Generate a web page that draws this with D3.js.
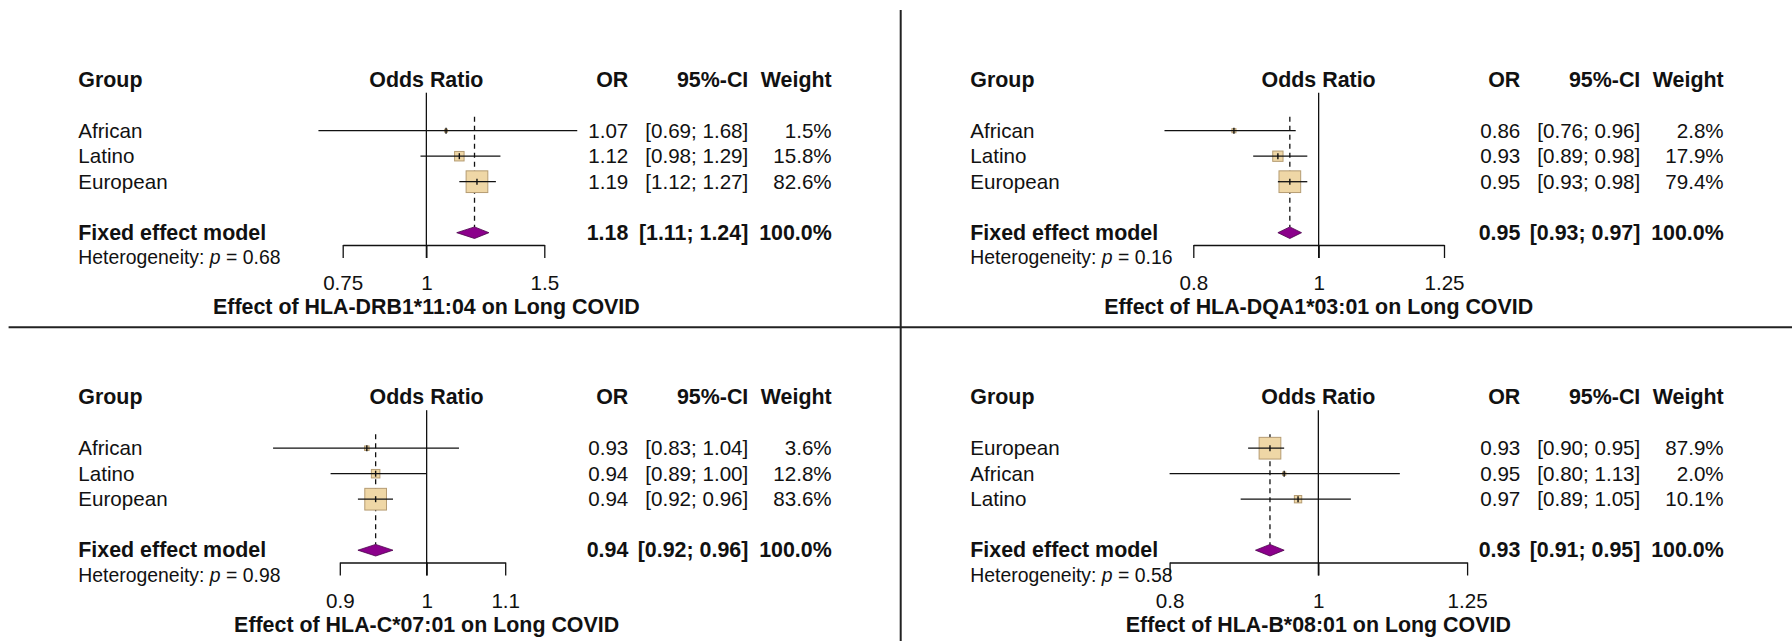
<!DOCTYPE html>
<html>
<head>
<meta charset="utf-8">
<script src="https://cdn.jsdelivr.net/npm/d3@7"></script>
<style>
  html, body { margin: 0; padding: 0; background: #fff; }
  svg { display: block; }
  text { font-family: "Liberation Sans", Arial, sans-serif; fill: #111; }
</style>
</head>
<body>
<svg id="chart" width="1792" height="641"></svg>
<script>
// ---------------- DATA ----------------
const panelTitles = [
  "Effect of HLA-DRB1*11:04 on Long COVID",
  "Effect of HLA-DQA1*03:01 on Long COVID",
  "Effect of HLA-C*07:01 on Long COVID",
  "Effect of HLA-B*08:01 on Long COVID"
];
const groupNames = [
  ["African", "Latino", "European"],
  ["African", "Latino", "European"],
  ["African", "Latino", "European"],
  ["European", "African", "Latino"]
];
const orValues = [
  [1.07, 1.12, 1.19],
  [0.86, 0.93, 0.95],
  [0.93, 0.94, 0.94],
  [0.93, 0.95, 0.97]
];
const ciLower = [
  [0.69, 0.98, 1.12],
  [0.76, 0.89, 0.93],
  [0.83, 0.89, 0.92],
  [0.90, 0.80, 0.89]
];
const ciUpper = [
  [1.68, 1.29, 1.27],
  [0.96, 0.98, 0.98],
  [1.04, 1.00, 0.96],
  [0.95, 1.13, 1.05]
];
const weights = [
  [1.5, 15.8, 82.6],
  [2.8, 17.9, 79.4],
  [3.6, 12.8, 83.6],
  [87.9, 2.0, 10.1]
];
const fixedOR = [1.18, 0.95, 0.94, 0.93];
const fixedLower = [1.11, 0.93, 0.92, 0.91];
const fixedUpper = [1.24, 0.97, 0.96, 0.95];
const hetP = ["0.68", "0.16", "0.98", "0.58"];
const tickValues = [
  [0.75, 1, 1.5],
  [0.8, 1, 1.25],
  [0.9, 1, 1.1],
  [0.8, 1, 1.25]
];
const headers = ["Group", "Odds Ratio", "OR", "95%-CI", "Weight"];
const fixedLabel = "Fixed effect model";

// ---------------- LAYOUT ----------------
const panelOffset = [[0, 0], [892, 0], [0, 317.5], [892, 317.5]];
const axisPixelRange = [[342.7, 544.3], [301.3, 552], [339.8, 505.2], [277.6, 575.1]];
const L = {
  groupX: 78.3, refX: 426.6, orRight: 628.3, ciRight: 748.3, wRight: 831.7,
  headerY: 86.7, row0: 130.7, rowStep: 25.5, fixedY: 232.7, textDy: 6.8,
  hetY: 264, axisY: 245, tickLen: 13, tickLabelY: 290, titleY: 314,
  refTop: 92.7, dashTop: 116.7, maxSquare: 21.7, diamondHalfH: 5.8,
  fontSize: 20.6, boldSize: 21.4, hetFont: 19.4
};

const svg = d3.select("#chart");
const fmt2 = d3.format(".2f");
const fmtW = d3.format(".1f");

panelTitles.forEach((title, i) => {
  const g = svg.append("g").attr("transform", `translate(${panelOffset[i][0]},${panelOffset[i][1]})`);
  const tv = tickValues[i];
  const x = d3.scaleLog().domain([tv[0], tv[tv.length - 1]]).range(axisPixelRange[i]);
  const rowY = k => L.row0 + k * L.rowStep;
  const wmax = d3.max(weights[i]);

  // headers
  const hdr = g.append("g").attr("font-weight", "bold").attr("font-size", L.boldSize);
  hdr.append("text").attr("x", L.groupX).attr("y", L.headerY).text(headers[0]);
  hdr.append("text").attr("x", x(1)).attr("y", L.headerY).attr("text-anchor", "middle").text(headers[1]);
  hdr.append("text").attr("x", L.orRight).attr("y", L.headerY).attr("text-anchor", "end").text(headers[2]);
  hdr.append("text").attr("x", L.ciRight).attr("y", L.headerY).attr("text-anchor", "end").text(headers[3]);
  hdr.append("text").attr("x", L.wRight).attr("y", L.headerY).attr("text-anchor", "end").text(headers[4]);

  // reference line at 1
  g.append("line").attr("x1", x(1)).attr("x2", x(1))
    .attr("y1", L.refTop).attr("y2", L.axisY + L.tickLen)
    .attr("stroke", "#111").attr("stroke-width", 1.3);

  // dashed fixed-effect line
  g.append("line").attr("x1", x(fixedOR[i])).attr("x2", x(fixedOR[i]))
    .attr("y1", L.dashTop).attr("y2", L.fixedY - L.diamondHalfH)
    .attr("stroke", "#111").attr("stroke-width", 1.3).attr("stroke-dasharray", "5,4");

  // study rows
  groupNames[i].forEach((name, k) => {
    const y = rowY(k);
    const s = L.maxSquare * Math.sqrt(weights[i][k] / wmax);
    const cx = x(orValues[i][k]);
    g.append("rect").attr("x", cx - s / 2).attr("y", y - s / 2).attr("width", s).attr("height", s)
      .attr("fill", "#efd7a6").attr("stroke", "#b59c72").attr("stroke-width", 1);
    g.append("line").attr("x1", x(ciLower[i][k])).attr("x2", x(ciUpper[i][k]))
      .attr("y1", y).attr("y2", y).attr("stroke", "#111").attr("stroke-width", 1.3);
    g.append("line").attr("x1", cx).attr("x2", cx).attr("y1", y - 3).attr("y2", y + 3)
      .attr("stroke", "#111").attr("stroke-width", 1.4);

    const t = g.append("g").attr("font-size", L.fontSize);
    t.append("text").attr("x", L.groupX).attr("y", y + L.textDy).text(name);
    t.append("text").attr("x", L.orRight).attr("y", y + L.textDy).attr("text-anchor", "end").text(fmt2(orValues[i][k]));
    t.append("text").attr("x", L.ciRight).attr("y", y + L.textDy).attr("text-anchor", "end")
      .text(`[${fmt2(ciLower[i][k])}; ${fmt2(ciUpper[i][k])}]`);
    t.append("text").attr("x", L.wRight).attr("y", y + L.textDy).attr("text-anchor", "end").text(fmtW(weights[i][k]) + "%");
  });

  // diamond
  const dy = L.fixedY, h = L.diamondHalfH;
  g.append("path")
    .attr("d", `M${x(fixedLower[i])},${dy} L${x(fixedOR[i])},${dy - h} L${x(fixedUpper[i])},${dy} L${x(fixedOR[i])},${dy + h} Z`)
    .attr("fill", "#8b008b").attr("stroke", "#4a004a").attr("stroke-width", 0.8);

  const fb = g.append("g").attr("font-weight", "bold").attr("font-size", L.boldSize);
  fb.append("text").attr("x", L.groupX).attr("y", dy + L.textDy).text(fixedLabel);
  fb.append("text").attr("x", L.orRight).attr("y", dy + L.textDy).attr("text-anchor", "end").text(fmt2(fixedOR[i]));
  fb.append("text").attr("x", L.ciRight).attr("y", dy + L.textDy).attr("text-anchor", "end")
    .text(`[${fmt2(fixedLower[i])}; ${fmt2(fixedUpper[i])}]`);
  fb.append("text").attr("x", L.wRight).attr("y", dy + L.textDy).attr("text-anchor", "end").text("100.0%");

  // heterogeneity
  const het = g.append("text").attr("x", L.groupX).attr("y", L.hetY).attr("font-size", L.hetFont).attr("fill", "#222");
  het.append("tspan").text("Heterogeneity: ");
  het.append("tspan").attr("font-style", "italic").text("p");
  het.append("tspan").text(" = " + hetP[i]);

  // axis
  const axis = d3.axisBottom(x).tickValues(tv).tickFormat(d => String(d))
    .tickSizeOuter(0).tickSizeInner(L.tickLen);
  const ag = g.append("g").attr("transform", `translate(0,${L.axisY})`).call(axis);
  ag.select(".domain").attr("stroke", "#111").attr("stroke-width", 1.3);
  ag.selectAll(".tick line").attr("stroke", "#111").attr("stroke-width", 1.3);
  ag.selectAll(".tick text").attr("y", L.tickLabelY - L.axisY).attr("dy", null)
    .attr("font-size", L.fontSize).attr("font-family", "'Liberation Sans', Arial, sans-serif").attr("fill", "#111");
  ag.attr("font-size", null).attr("font-family", null);

  // title
  g.append("text").attr("x", x(1)).attr("y", L.titleY).attr("text-anchor", "middle")
    .attr("font-weight", "bold").attr("font-size", L.boldSize).text(title);
});

// dividers
svg.append("line").attr("x1", 900.7).attr("x2", 900.7).attr("y1", 10).attr("y2", 641)
  .attr("stroke", "#222").attr("stroke-width", 2);
svg.append("line").attr("x1", 8.6).attr("x2", 1792).attr("y1", 327.3).attr("y2", 327.3)
  .attr("stroke", "#222").attr("stroke-width", 2);
</script>
</body>
</html>
